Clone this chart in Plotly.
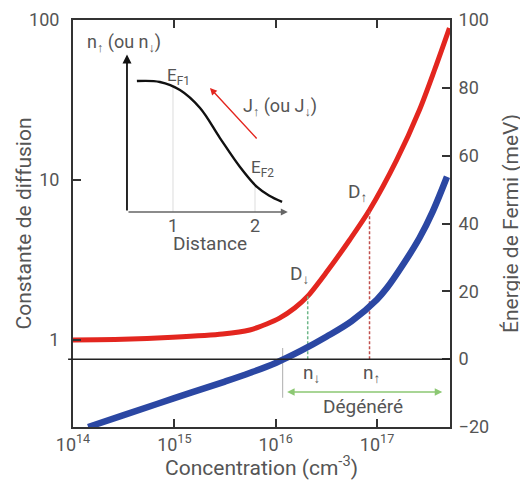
import numpy as np
import plotly.graph_objects as go

# ---- main data ----
conc_D = [1.0e14, 3.11e14, 9.66e14, 3.0e15, 5.55e15, 8.15e15, 1.09e16, 1.54e16, 2.07e16,
          3.18e16, 5.36e16, 8.43e16, 1.56e17, 2.62e17, 3.69e17, 5.18e17]
D_vals = [1.0, 1.01, 1.04, 1.09, 1.155, 1.26, 1.37, 1.585, 1.88,
          2.66, 4.22, 6.49, 13.3, 27.4, 48.7, 89.1]

conc_E = [1.41e14, 3.16e14, 1.0e15, 3.16e15, 5.62e15, 1.0e16, 1.78e16, 3.16e16,
          5.62e16, 1.0e17, 1.26e17, 1.78e17, 2.63e17, 3.55e17, 4.9e17]
E_vals = [-20.0, -16.5, -11.5, -6.6, -4.0, -1.1, 2.5, 6.6,
          11.2, 17.6, 21.1, 27.6, 35.8, 43.6, 53.8]

n_down = 2.07e16
n_up = 8.43e16
n_deg = 1.17e16
deg_end = 4.4e17

x_ticks = [1e14, 1e15, 1e16, 1e17]
x_ticktext = ["10<sup>14</sup>", "10<sup>15</sup>", "10<sup>16</sup>", "10<sup>17</sup>"]
yL_ticks = [1, 10, 100]
yR_ticks = [-20, 0, 20, 40, 60, 80, 100]

# ---- inset data ----
dist = [0.56, 0.84, 1.085, 1.33, 1.573, 1.817, 2.024, 2.17, 2.33]
n_dist = [0.873, 0.867, 0.813, 0.693, 0.493, 0.30, 0.167, 0.11, 0.067]
inset_ticks = [1, 2]

RED = "#e3261f"
BLUE = "#2b47a3"
GREEN = "#8cc873"
TXT = "#555555"
AX = "#333333"

ylog_min, ylog_max = np.log10(0.286), 2.0
yR_min, yR_max = -20, 100

def D_to_right(d):
    return yR_min + (np.log10(d) - ylog_min) / (ylog_max - ylog_min) * (yR_max - yR_min)

def D_at(n):
    return 10 ** np.interp(np.log10(n), np.log10(conc_D), np.log10(D_vals))

fig = go.Figure()

# dashed markers
for n, col in [(n_down, "#6fb88a"), (n_up, "#c0504d")]:
    fig.add_trace(go.Scatter(x=[n, n], y=[0, D_to_right(D_at(n))], mode="lines",
                             line=dict(color=col, width=1.5, dash="3px,2px"),
                             yaxis="y2", showlegend=False, hoverinfo="skip"))
# grey vertical at degeneracy onset
fig.add_trace(go.Scatter(x=[n_deg, n_deg], y=[3.3, -11.4], mode="lines",
                         line=dict(color="#bbbbbb", width=1.2),
                         yaxis="y2", showlegend=False, hoverinfo="skip"))

fig.add_trace(go.Scatter(x=conc_D, y=D_vals, mode="lines",
                         line=dict(color=RED, width=5, shape="spline", smoothing=0.8),
                         showlegend=False))
fig.add_trace(go.Scatter(x=conc_E, y=E_vals, mode="lines",
                         line=dict(color=BLUE, width=6.5, shape="spline", smoothing=1.0),
                         yaxis="y2", showlegend=False))

# inset
for t in inset_ticks:
    fig.add_trace(go.Scatter(x=[t, t], y=[0, float(np.interp(t, dist, n_dist))], mode="lines",
                             line=dict(color="#dddddd", width=1), xaxis="x3", yaxis="y3",
                             showlegend=False, hoverinfo="skip"))
fig.add_trace(go.Scatter(x=dist, y=n_dist, mode="lines",
                         line=dict(color="#111111", width=2.4, shape="spline"),
                         xaxis="x3", yaxis="y3", showlegend=False))

fig.add_shape(type="line", xref="paper", x0=-0.013, x1=1, yref="y2", y0=0, y1=0,
              line=dict(color="#222222", width=1.5))

ann = []
def txt(x, y, s, xref="x", yref="y2", size=19, color=TXT, angle=0):
    ann.append(dict(x=x, y=y, xref=xref, yref=yref, text=s, showarrow=False,
                    xanchor="center", yanchor="middle",
                    textangle=angle, font=dict(size=size, color=color)))

# left axis title (placed as annotation for exact positioning)
txt(-0.130, 0.50, "Constante de diffusion", "paper", "paper", 21, angle=-90)

txt(16.236, 25.1, "D<sub>↓</sub>")
txt(16.808, 49.0, "D<sub>↑</sub>")
txt(16.355, -4.1, "n<sub>↓</sub>")
txt(16.946, -4.1, "n<sub>↑</sub>")
txt(16.857, -14.1, "Dégénéré")

ann.append(dict(x=np.log10(deg_end), y=-9.7, ax=np.log10(n_deg) + 0.03, ay=-9.7,
                xref="x", yref="y2", axref="x", ayref="y2", text="", showarrow=True,
                arrowhead=2, arrowside="end+start", arrowwidth=1.5, arrowsize=1,
                arrowcolor=GREEN))

# inset annotations
txt(0.40, 1.127, "n<sub>↑</sub> (ou n<sub>↓</sub>)", "x3", "y3", 18)
txt(1.07, 0.905, "E<sub>F1</sub>", "x3", "y3", 17)
txt(2.09, 0.29, "E<sub>F2</sub>", "x3", "y3", 17)
txt(2.30, 0.70, "J<sub>↑</sub> (ou J<sub>↓</sub>)", "x3", "y3", 18)
txt(1.45, -0.207, "Distance", "x3", "y3", 19)
for t in inset_ticks:
    txt(t, -0.09, str(t), "x3", "y3", 18)

ann.append(dict(x=0.439, y=1.05, ax=0.439, ay=0, xref="x3", yref="y3", axref="x3",
                ayref="y3", text="", showarrow=True, arrowhead=2, arrowwidth=1.8,
                arrowsize=1, arrowcolor="#111111"))
ann.append(dict(x=2.40, y=0, ax=0.439, ay=0, xref="x3", yref="y3", axref="x3",
                ayref="y3", text="", showarrow=True, arrowhead=2, arrowwidth=1.4,
                arrowsize=1, arrowcolor="#666666"))
ann.append(dict(x=1.451, y=0.827, ax=2.037, ay=0.48, xref="x3", yref="y3", axref="x3",
                ayref="y3", text="", showarrow=True, arrowhead=2, arrowwidth=1.4,
                arrowsize=1, arrowcolor=RED))

# the page body adds an 8px offset, so the figure is 8px smaller with adjusted margins
fig.update_layout(
    width=520, height=472,
    margin=dict(l=65, r=78, t=12, b=53),
    paper_bgcolor="white", plot_bgcolor="white",
    font=dict(family="Roboto", size=18, color=TXT),
    annotations=ann,
    xaxis=dict(type="log", range=[14, 17.72], tickvals=x_ticks, ticktext=x_ticktext,
               ticks="inside", ticklen=8, tickwidth=1.5, tickcolor=AX,
               showline=True, linecolor=AX, linewidth=2, mirror="ticks",
               showgrid=False, zeroline=False, automargin=False,
               title=dict(text="Concentration (cm<sup>-3</sup>)", font=dict(size=21), standoff=5),
               tickfont=dict(size=18, color=TXT)),
    yaxis=dict(type="log", range=[ylog_min, ylog_max], tickvals=yL_ticks,
               ticktext=[str(v) for v in yL_ticks],
               ticks="inside", ticklen=8, tickwidth=1.5, tickcolor=AX,
               showline=True, linecolor=AX, linewidth=2,
               showgrid=False, zeroline=False, ticklabelstandoff=8, automargin=False,
               tickfont=dict(size=18, color=TXT)),
    yaxis2=dict(overlaying="y", side="right", range=[yR_min, yR_max], tickvals=yR_ticks,
                ticks="inside", ticklen=8, tickwidth=1.5, tickcolor=AX,
                showline=True, linecolor=AX, linewidth=2, automargin=False,
                showgrid=False, zeroline=False, ticklabelstandoff=3,
                title=dict(text="Énergie de Fermi (meV)", font=dict(size=21), standoff=15),
                tickfont=dict(size=18, color=TXT)),
    xaxis3=dict(domain=[0.0912, 0.6133], range=[0.2, 2.6], anchor="y3", visible=False),
    yaxis3=dict(domain=[0.4177, 0.9705], range=[-0.3, 1.2], anchor="x3", visible=False),
)

fig.write_html("out.html")
